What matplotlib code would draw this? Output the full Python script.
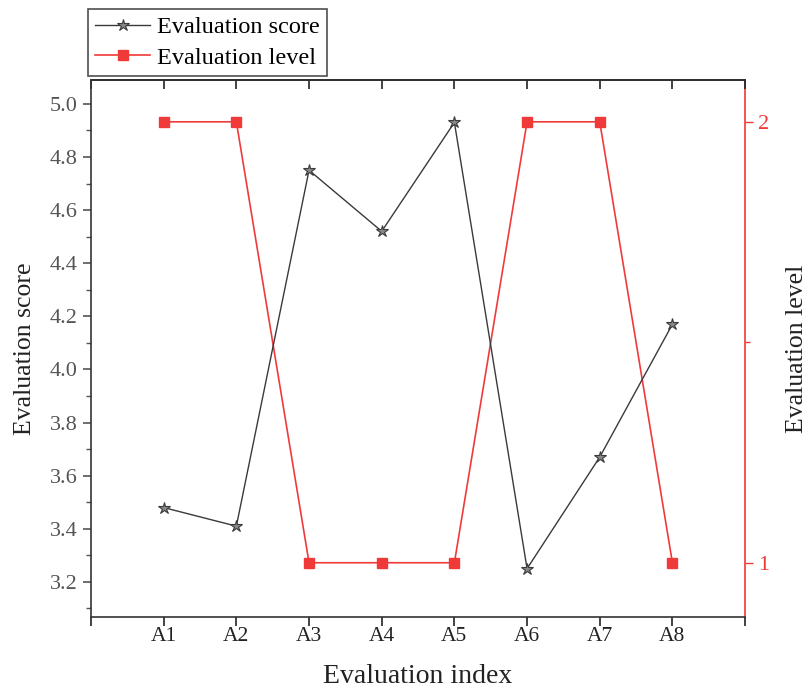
import matplotlib
matplotlib.use("Agg")
import matplotlib.pyplot as plt
from matplotlib.ticker import MultipleLocator, FixedLocator, FormatStrFormatter

# data
indexes = ["A1", "A2", "A3", "A4", "A5", "A6", "A7", "A8"]
scores = [3.48, 3.41, 4.75, 4.52, 4.93, 3.25, 3.67, 4.17]
levels = [2, 2, 1, 1, 1, 2, 2, 1]

plt.rcParams["font.family"] = ["Liberation Serif", "DejaVu Serif"]

score_color = "#3a3a3a"
level_color = "#f03a3a"
tick_grey = "#555555"

fig = plt.figure(figsize=(8.09, 6.89), dpi=100)
ax = fig.add_axes([0.1125, 0.1045, 0.8085, 0.7795])
ax2 = ax.twinx()

x = list(range(1, len(indexes) + 1))
l1, = ax.plot(x, scores, color=score_color, lw=1.0, marker="*", ms=9,
              markerfacecolor="#888888", markeredgecolor=score_color, markeredgewidth=0.8,
              label="Evaluation score")
l2, = ax2.plot(x, levels, color=level_color, lw=1.2, marker="s", ms=7,
               markerfacecolor=level_color, markeredgecolor=level_color,
               label="Evaluation level")
ax.set_zorder(ax2.get_zorder() + 1)
ax.patch.set_visible(False)

ax.set_xlim(0, 9)
ax.set_ylim(3.068, 5.09)
ax2.set_ylim(0.877, 2.095)

ax.xaxis.set_major_locator(FixedLocator(range(0, 10)))
ax.set_xticklabels([""] + indexes + [""])
ax.yaxis.set_major_locator(MultipleLocator(0.2))
ax.yaxis.set_minor_locator(MultipleLocator(0.1))
ax.yaxis.set_major_formatter(FormatStrFormatter("%.1f"))
ax2.yaxis.set_major_locator(FixedLocator([1, 2]))
ax2.yaxis.set_minor_locator(FixedLocator([1.5]))

ax.tick_params(axis="x", which="both", direction="out", length=6.5, width=1.2,
               labelsize=15.5, colors="#222222", top=False, pad=0.5)
ax.tick_params(axis="y", which="major", direction="out", length=6, width=1.2,
               labelsize=16, color="#555555", labelcolor=tick_grey)
ax.tick_params(axis="y", which="minor", direction="out", length=3.5, width=1.0, color="#555555")
ax2.tick_params(axis="y", which="major", direction="out", length=6, width=1.0,
                labelsize=16, colors=level_color)
ax2.tick_params(axis="y", which="minor", direction="out", length=3.5, width=1.0, colors=level_color)

# top spine ticks point inward
ax_top = ax.secondary_xaxis("top")
ax_top.set_xticks(range(0, 10))
ax_top.tick_params(direction="in", length=6.5, width=1.2, labeltop=False, color="#222222")
ax_top.spines["top"].set_linewidth(1.2)

for side in ["left", "bottom", "top"]:
    ax.spines[side].set_linewidth(1.2)
    ax.spines[side].set_color("#333333")
ax.spines["right"].set_visible(False)
ax2.spines["right"].set_color(level_color)
ax2.spines["right"].set_linewidth(1.2)
for side in ["left", "bottom", "top"]:
    ax2.spines[side].set_visible(False)

ax.set_xlabel("Evaluation index", fontsize=20, color="#222222", labelpad=13)
ax.set_ylabel("Evaluation score", fontsize=18.5, color="#222222", labelpad=10)
ax2.set_ylabel("Evaluation level", fontsize=18.5, color="#222222", labelpad=12)

leg = fig.legend(handles=[l1, l2], loc="lower left",
                 bbox_to_anchor=(88 / 809, (689 - 76) / 689),
                 fontsize=17.5, frameon=True, fancybox=False, edgecolor="#222222",
                 handlelength=2.25, handletextpad=0.3, borderpad=0.3, labelspacing=0.35,
                 borderaxespad=0)
leg.get_frame().set_linewidth(1.2)

fig.savefig("out.png", dpi=100)
